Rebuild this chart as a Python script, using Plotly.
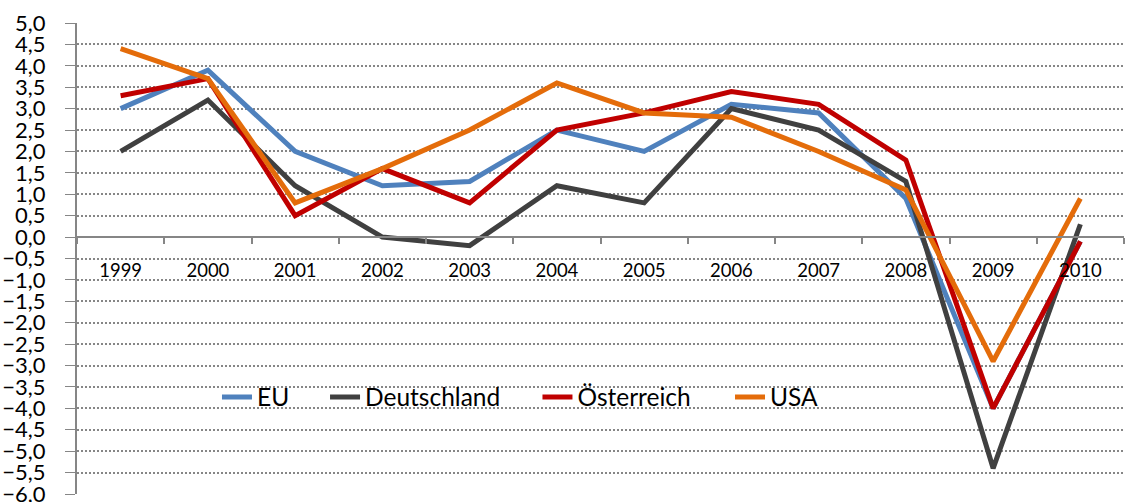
import plotly.graph_objects as go

years = ["1999", "2000", "2001", "2002", "2003", "2004", "2005", "2006", "2007", "2008", "2009", "2010"]
eu = [3.0, 3.9, 2.0, 1.2, 1.3, 2.5, 2.0, 3.1, 2.9, 0.9, -4.0, -0.1]
deutschland = [2.0, 3.2, 1.2, 0.0, -0.2, 1.2, 0.8, 3.0, 2.5, 1.3, -5.4, 0.3]
oesterreich = [3.3, 3.7, 0.5, 1.6, 0.8, 2.5, 2.9, 3.4, 3.1, 1.8, -4.0, -0.1]
usa = [4.4, 3.7, 0.8, 1.6, 2.5, 3.6, 2.9, 2.8, 2.0, 1.1, -2.9, 0.9]

series = [
    ("EU", eu, "#4F81BD"),
    ("Deutschland", deutschland, "#404040"),
    ("Österreich", oesterreich, "#C00000"),
    ("USA", usa, "#E46C0A"),
]
legend_x = [0.1337, 0.2369, 0.4398, 0.6237]

FONT = "Lato"
fig = go.Figure()
legend_layouts = {}
for i, (name, vals, col) in enumerate(series):
    lname = "legend" if i == 0 else f"legend{i+1}"
    fig.add_trace(go.Scatter(x=years, y=vals, name=name, mode="lines",
                             line=dict(color=col, width=5), legend=lname))
    legend_layouts[lname] = dict(
        orientation="h", x=legend_x[i], y=0.206, xanchor="left", yanchor="middle",
        bgcolor="rgba(0,0,0,0)", font=dict(family=FONT, size=24.5, color="black"),
        itemwidth=30)

ymin, ymax = -6, 5
fig.update_layout(
    width=1125, height=502,
    margin=dict(l=77, r=1, t=23, b=8),
    plot_bgcolor="white", paper_bgcolor="white",
    separators=",.",
    showlegend=True,
    xaxis=dict(type="category", anchor="free", position=(0 - ymin) / (ymax - ymin),
               showline=True, linecolor="#868686", linewidth=2,
               ticks="outside", ticklen=6, tickcolor="#868686", tickwidth=2,
               tickson="boundaries", showgrid=False, ticklabelstandoff=17,
               tickfont=dict(family=FONT, size=18.5, color="black"),
               range=[-0.5, 11.5], automargin=False),
    yaxis=dict(range=[ymin, ymax], dtick=0.5, tick0=0, tickformat=".1f",
               showline=True, linecolor="#868686", linewidth=2,
               ticks="outside", ticklen=10, tickcolor="#868686", tickwidth=1,
               ticklabelstandoff=15, automargin=False, ticklabeloverflow="allow",
               showgrid=True, gridcolor="#868686", gridwidth=1.5, griddash="2px,2px",
               zeroline=False,
               tickfont=dict(family=FONT, size=22, color="black")),
    **legend_layouts,
)

fig.write_html("out.html", config={"displayModeBar": False},
               post_script="document.body.style.margin='0';document.body.style.overflow='hidden';")
